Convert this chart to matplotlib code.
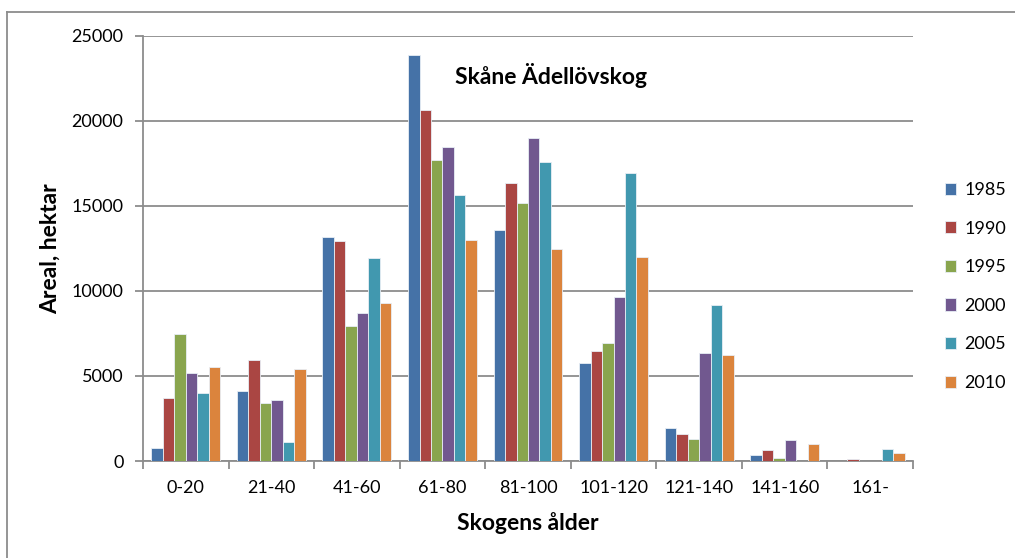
import numpy as np
from matplotlib import pyplot as plt
from matplotlib.lines import Line2D

# data
klasser = ['0-20', '21-40', '41-60', '61-80', '81-100', '101-120', '121-140', '141-160', '161-']
ar = ['1985', '1990', '1995', '2000', '2005', '2010']
v1985 = [780, 4140, 13140, 23840, 13590, 5760, 1930, 350, 0]
v1990 = [3700, 5930, 12930, 20640, 16320, 6480, 1580, 620, 120]
v1995 = [7490, 3400, 7930, 17690, 15140, 6930, 1270, 150, 0]
v2000 = [5190, 3570, 8710, 18470, 18980, 9640, 6350, 1210, 0]
v2005 = [3980, 1090, 11930, 15630, 17550, 16900, 9180, 0, 720]
v2010 = [5520, 5430, 9270, 12980, 12460, 12000, 6250, 980, 470]
serier = [v1985, v1990, v1995, v2000, v2005, v2010]
farger = ['#4572A7', '#AA4643', '#89A54E', '#71588F', '#4198AF', '#DB843D']

plt.rcParams['font.family'] = ['Lato', 'DejaVu Sans']

fig = plt.figure(figsize=(10.15, 5.58), dpi=100)
ax = fig.add_axes([143/1015, 1-461/558, 770/1015, 425.5/558])

x = np.arange(len(klasser))
bw = 0.134
for i, (vals, c, lab) in enumerate(zip(serier, farger, ar)):
    h = np.array(vals, dtype=float)
    h[h == 0] = np.nan   # tomma staplar ritas inte
    ax.bar(x + (i-2.5)*bw, h, bw, color=c, edgecolor='#e8eef5', linewidth=0.6,
           label=lab, zorder=3)

ax.set_xlim(-0.5, len(klasser)-0.5)
ax.set_ylim(0, 25000)
ax.set_yticks(range(0, 25001, 5000))
ax.set_xticks(x)
ax.set_xticklabels(klasser, fontsize=13)
ax.set_xticks(np.arange(-0.5, len(klasser)), minor=True)
ax.tick_params(axis='x', which='major', length=0, pad=14)
ax.tick_params(axis='x', which='minor', length=6, color='#8c8c8c', width=1.3)
ax.tick_params(axis='y', length=6, color='#8c8c8c', width=1.3, labelsize=13, pad=8)
ax.yaxis.grid(True, color='#8c8c8c', linewidth=1.3, zorder=0)
ax.set_axisbelow(True)
for s in ['top', 'right']:
    ax.spines[s].set_visible(False)
for s in ['left', 'bottom']:
    ax.spines[s].set_color('#8c8c8c')
    ax.spines[s].set_linewidth(1.3)

ax.set_ylabel('Areal, hektar', fontsize=16.5, fontweight='bold', labelpad=8)
ax.set_xlabel('Skogens ålder', fontsize=16.5, fontweight='bold', labelpad=11)
ax.text(0.53, 0.905, 'Skåne Ädellövskog', transform=ax.transAxes, ha='center', va='center',
        fontsize=16.5, fontweight='bold')

ax.legend(loc='center left', bbox_to_anchor=(1.02, 0.41), frameon=False, fontsize=13,
          handlelength=0.65, handleheight=0.65, handletextpad=0.45, labelspacing=1.25)

# outer chart border
fig.add_artist(Line2D([7/1015, 7/1015], [0, 1-12/558], color='#8c8c8c', linewidth=1.3))
fig.add_artist(Line2D([7/1015, 1], [1-12/558, 1-12/558], color='#8c8c8c', linewidth=1.3))

plt.savefig('out.png', dpi=100)
